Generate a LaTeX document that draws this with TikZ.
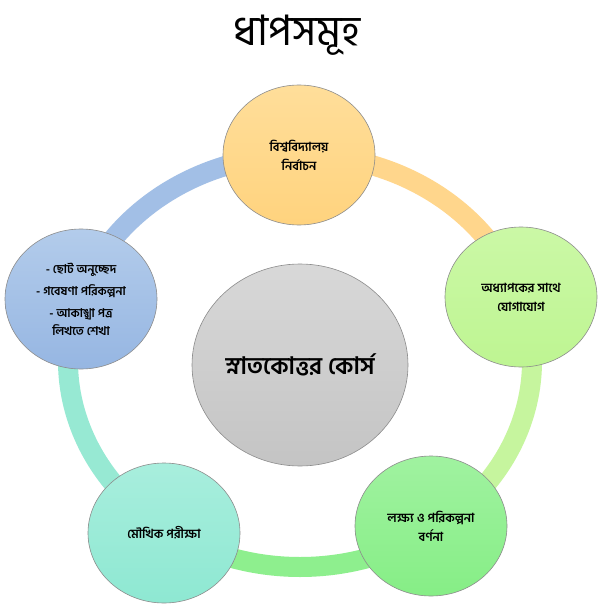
\documentclass[tikz,border=0pt]{standalone}
\usepackage{fontspec}
\usetikzlibrary{shapes.geometric}
\newfontfamily\bn[Script=Bengali]{Hind Siliguri}
\definecolor{orC}{HTML}{FFD68C}
\definecolor{lgC}{HTML}{C6F59E}
\definecolor{grC}{HTML}{8EEF8E}
\definecolor{tlC}{HTML}{97E9D3}
\definecolor{blC}{HTML}{A2BFE6}
\definecolor{edgeC}{HTML}{8C8C8C}
\tikzset{
  bubble/.style={ellipse, draw=edgeC, line width=0.6pt, minimum width=152pt, minimum height=140pt,
    inner sep=0pt, align=center, font=\bn\bfseries\fontsize{12.5}{19}\selectfont},
  ringarc/.style={line width=20pt, line cap=butt},
}
\begin{document}
\begin{tikzpicture}[x=1pt,y=1pt]
\useasboundingbox (0,0) rectangle (600,-607);
\fill[white] (0,0) rectangle (600,-607);
\coordinate (rc) at (300,-361);
% ring arcs
\draw[ringarc, orC] (rc) ++(90:232 and 206) arc[start angle=90, end angle=18, x radius=232, y radius=206];
\draw[ringarc, lgC] (rc) ++(18:232 and 206) arc[start angle=18, end angle=-54, x radius=232, y radius=206];
\draw[ringarc, grC] (rc) ++(-54:232 and 206) arc[start angle=-54, end angle=-126, x radius=232, y radius=206];
\draw[ringarc, tlC] (rc) ++(-126:232 and 206) arc[start angle=-126, end angle=-198, x radius=232, y radius=206];
\draw[ringarc, blC] (rc) ++(162:232 and 206) arc[start angle=162, end angle=90, x radius=232, y radius=206];
% title
\node[font=\bn\fontsize{42}{46}\selectfont] (title) at (297,-35) {ধাপসমূহ};
% nodes
\node[bubble, top color={rgb,255:red,255;green,222;blue,154}, bottom color={rgb,255:red,255;green,211;blue,126}] (n1) at (299,-155) {বিশ্ববিদ্যালয়\\নির্বাচন};
\node[bubble, top color={rgb,255:red,203;green,248;blue,166}, bottom color={rgb,255:red,190;green,245;blue,146}] (n2) at (521,-297) {অধ্যাপকের সাথে\\যোগাযোগ};
\node[bubble, top color={rgb,255:red,160;green,242;blue,160}, bottom color={rgb,255:red,134;green,238;blue,134}] (n3) at (431,-526) {লক্ষ্য ও পরিকল্পনা\\বর্ণনা};
\node[bubble, top color={rgb,255:red,168;green,238;blue,221}, bottom color={rgb,255:red,142;green,232;blue,210}] (n4) at (164,-533) {মৌখিক পরীক্ষা};
\node[bubble, top color={rgb,255:red,179;green,204;blue,235}, bottom color={rgb,255:red,150;green,182;blue,226}, font=\bn\bfseries\fontsize{12}{18}\selectfont] (n5) at (81,-299) {- ছোট অনুচ্ছেদ\\[4pt]- গবেষণা পরিকল্পনা\\[4pt]- আকাঙ্খা পত্র\\লিখতে শেখা};
% center
\node[ellipse, draw=edgeC, line width=0.6pt, minimum width=216pt, minimum height=202pt, inner sep=0pt,
  top color={rgb,255:red,216;green,216;blue,216}, bottom color={rgb,255:red,196;green,196;blue,196},
  font=\bn\bfseries\fontsize{24}{28}\selectfont] (c) at (300,-365) {স্নাতকোত্তর কোর্স};
\end{tikzpicture}
\end{document}
